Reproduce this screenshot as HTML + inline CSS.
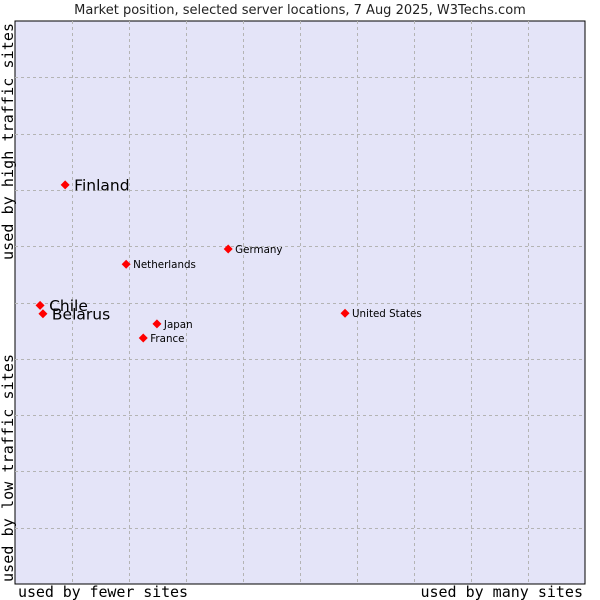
<!DOCTYPE html>
<html><head><meta charset="utf-8"><style>
body{margin:0;background:#fff;}
svg{display:block;font-family:"DejaVu Sans","Liberation Sans",sans-serif;}
</style></head><body>
<svg id="chart" width="600" height="600">
<rect x="0" y="0" width="600" height="600" fill="#fff"/>
<text x="300" y="14" text-anchor="middle" font-size="13" fill="#222">Market position, selected server locations, 7 Aug 2025, W3Techs.com</text>
<rect x="15" y="21" width="570" height="563" fill="#e4e4f8" stroke="#000" stroke-width="1"/>
<g id="grid"></g>
<g id="points"></g>
<text x="18" y="597" font-family="DejaVu Sans Mono, Liberation Mono, monospace" font-size="15" textLength="170" fill="#000">used by fewer sites</text>
<text x="583" y="597" text-anchor="end" font-family="DejaVu Sans Mono, Liberation Mono, monospace" font-size="15" fill="#000">used by many sites</text>
<text transform="translate(13,260) rotate(-90)" font-family="DejaVu Sans Mono, Liberation Mono, monospace" font-size="15" textLength="237" fill="#000">used by high traffic sites</text>
<text transform="translate(13,582) rotate(-90)" font-family="DejaVu Sans Mono, Liberation Mono, monospace" font-size="15" textLength="228" fill="#000">used by low traffic sites</text>
</svg>
<script>
const countries=["Finland","Netherlands","Germany","Chile","Belarus","Japan","France","United States"];
const xValues=[8.8,19.5,37.4,4.4,4.9,24.9,22.5,57.9];
const yValues=[70.9,56.8,59.5,49.5,48.0,46.2,43.7,48.1];
const bigLabel=[true,false,false,true,true,false,false,false];
const L=15,T=21,W=570,H=563;
const sx=v=>L+v/100*W, sy=v=>T+H-v/100*H;
const ns="http://www.w3.org/2000/svg";
const grid=document.getElementById('grid');
for(let i=1;i<10;i++){
  const vx=document.createElementNS(ns,'line');
  
  
  const x=Math.round(sx(i*10))+0.5;
  vx.setAttribute('x1',x);vx.setAttribute('x2',x);vx.setAttribute('y1',T);vx.setAttribute('y2',T+H);
  vx.setAttribute('stroke','#b4b4b4');vx.setAttribute('stroke-dasharray','3,3');
  grid.appendChild(vx);
  const hy=document.createElementNS(ns,'line');
  
  
  const y=Math.round(sy(i*10))+0.5;
  hy.setAttribute('y1',y);hy.setAttribute('y2',y);hy.setAttribute('x1',L);hy.setAttribute('x2',L+W);
  hy.setAttribute('stroke','#b4b4b4');hy.setAttribute('stroke-dasharray','3,3');
  grid.appendChild(hy);
}
const pts=document.getElementById('points');
countries.forEach((c,i)=>{
  const x=sx(xValues[i]),y=sy(yValues[i]);
  const m=document.createElementNS(ns,'path');
  
  
  m.setAttribute('d',`M${x} ${y-4.5}L${x+4.5} ${y}L${x} ${y+4.5}L${x-4.5} ${y}Z`);
  m.setAttribute('fill','#f00');
  pts.appendChild(m);
  const t=document.createElementNS(ns,'text');
  
  
  const big=bigLabel[i];
  t.setAttribute('x',x+(big?9:7));
  t.setAttribute('y',y+(big?5.5:4));
  t.setAttribute('font-size',big?15.5:10.3);
  t.setAttribute('fill','#000');
  t.textContent=c;
  pts.appendChild(t);
});
</script>
</body></html>
